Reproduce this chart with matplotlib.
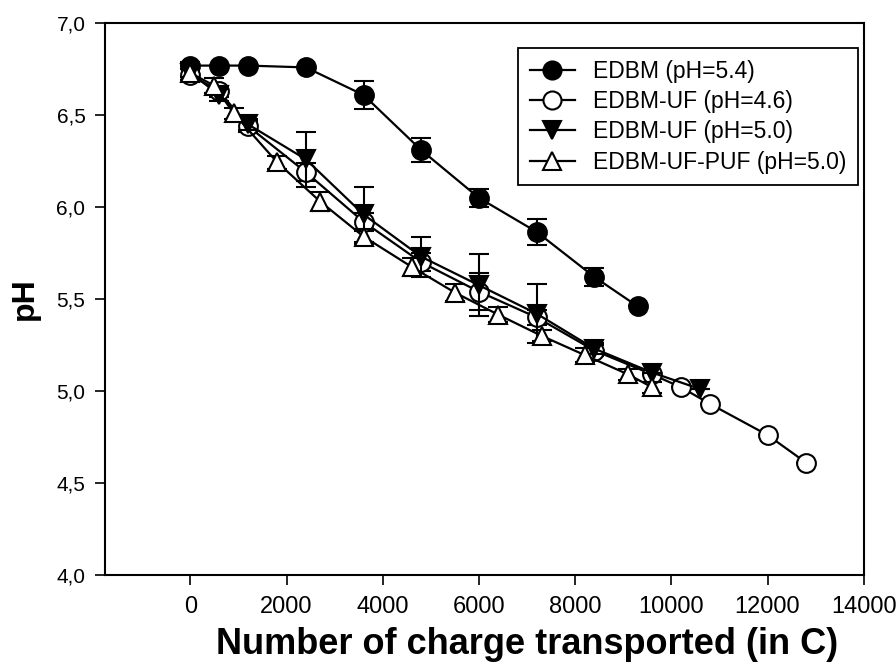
import matplotlib
matplotlib.use("Agg")
import matplotlib.pyplot as plt
from matplotlib.lines import Line2D
import numpy as np

plt.rcParams['font.family'] = ['Liberation Sans', 'DejaVu Sans']

# EDBM (pH=5.4)
x_edbm = [0, 600, 1200, 2400, 3600, 4800, 6000, 7200, 8400, 9300]
y_edbm = [6.77, 6.77, 6.77, 6.76, 6.61, 6.31, 6.05, 5.865, 5.62, 5.46]
e_edbm = [0.02, 0, 0, 0, 0.075, 0.065, 0.05, 0.07, 0.05, 0]

# EDBM-UF (pH=4.6)
x_uf46 = [0, 600, 1200, 2400, 3600, 4800, 6000, 7200, 8400, 9600, 10200, 10800, 12000, 12800]
y_uf46 = [6.72, 6.63, 6.44, 6.19, 5.92, 5.70, 5.54, 5.40, 5.22, 5.09, 5.02, 4.93, 4.76, 4.61]
e_uf46 = [0.03, 0.03, 0.03, 0.05, 0.05, 0.05, 0.1, 0.04, 0.03, 0, 0, 0, 0, 0]

# EDBM-UF (pH=5.0)
x_uf50 = [0, 600, 1200, 2400, 3600, 4800, 6000, 7200, 8400, 9600, 10600]
y_uf50 = [6.73, 6.61, 6.45, 6.26, 5.96, 5.73, 5.575, 5.42, 5.23, 5.10, 5.01]
e_uf50 = [0.02, 0.03, 0.03, 0.15, 0.15, 0.11, 0.17, 0.16, 0.03, 0, 0]

# EDBM-UF-PUF (pH=5.0)
x_puf = [0, 500, 900, 1800, 2700, 3600, 4600, 5500, 6400, 7300, 8200, 9100, 9600]
y_puf = [6.73, 6.66, 6.51, 6.245, 6.03, 5.84, 5.675, 5.535, 5.415, 5.30, 5.195, 5.09, 5.02]
e_puf = [0.04, 0.04, 0.03, 0.035, 0.05, 0.04, 0.05, 0.045, 0.04, 0.03, 0.04, 0.03, 0.03]

labels = ['EDBM (pH=5.4)', 'EDBM-UF (pH=4.6)', 'EDBM-UF (pH=5.0)', 'EDBM-UF-PUF (pH=5.0)']

fig = plt.figure(figsize=(8.96, 6.66), dpi=100)
ax = fig.add_axes([0.117, 0.137, 0.847, 0.828])

series = [
    (x_edbm, y_edbm, e_edbm, 'o', 'black'),
    (x_uf46, y_uf46, e_uf46, 'o', 'white'),
    (x_uf50, y_uf50, e_uf50, 'v', 'black'),
    (x_puf, y_puf, e_puf, '^', 'white'),
]
handles = []
for i, (x, y, e, m, fc) in enumerate(series):
    ax.errorbar(x, y, yerr=e, fmt='-', color='black', lw=1.6, marker=m,
                markerfacecolor=fc, markeredgecolor='black', markeredgewidth=1.5,
                markersize=13.5, capsize=7, capthick=1.5, elinewidth=1.5,
                zorder=2 + i)
    handles.append(Line2D([], [], color='black', lw=1.6, marker=m, markerfacecolor=fc,
                          markeredgecolor='black', markeredgewidth=1.5, markersize=13))

ax.set_xlim(-1780, 14000)
ax.set_ylim(4.0, 7.0)
ax.set_xticks(np.arange(0, 14001, 2000))
ax.set_yticks(np.arange(4.0, 7.01, 0.5))
ax.set_yticklabels([f"{v:.1f}".replace('.', ',') for v in np.arange(4.0, 7.01, 0.5)], fontsize=15)
ax.set_xticklabels([str(v) for v in range(0, 14001, 2000)], fontsize=17)
ax.tick_params(direction='out', length=7, width=1.2, top=False, right=False)
ax.tick_params(axis='x', pad=8)
ax.tick_params(axis='y', pad=7)
for s in ax.spines.values():
    s.set_linewidth(1.5)

ax.set_xlabel('Number of charge transported (in C)', fontsize=26, fontweight='bold')
ax.xaxis.set_label_coords((7000 + 1780) / 15780, -0.095)
ax.set_ylabel('pH', fontsize=23, fontweight='bold')
ax.yaxis.set_label_coords(-0.085, 0.5)

leg = ax.legend(handles, labels, loc='upper right', bbox_to_anchor=(0.992, 0.955),
                borderaxespad=0, fontsize=16.5, frameon=True, fancybox=False,
                edgecolor='black', framealpha=1, handlelength=1.95, handletextpad=0.8,
                labelspacing=0.32, borderpad=0.5)
leg.get_frame().set_linewidth(1.3)

fig.savefig('out.png', dpi=100)
